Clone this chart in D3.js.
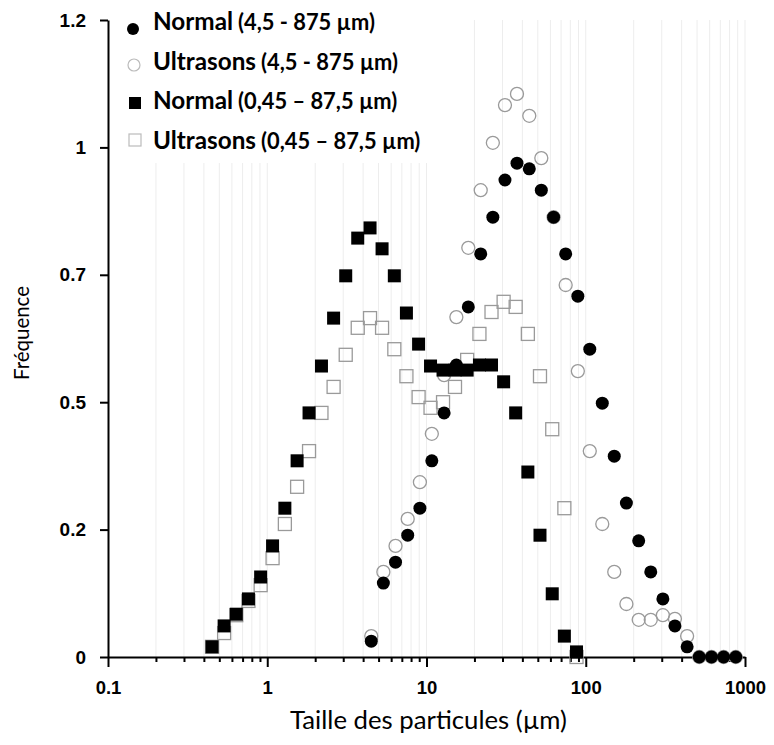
<!DOCTYPE html>
<html>
<head>
<meta charset="utf-8">
<script src="https://cdn.jsdelivr.net/npm/d3@7"></script>
<style>
  html, body { margin: 0; padding: 0; background: #fff; }
  svg { display: block; }
</style>
</head>
<body>
<svg id="chart" width="774" height="745"></svg>
<script>
// ---- data ----
const sizesBig   = [4.5, 5.36, 6.39, 7.62, 9.09, 10.8, 12.9, 15.4, 18.3, 21.9, 26.1, 31.1, 37.0, 44.2, 52.6, 62.8, 74.8, 89.2, 106, 127, 151, 180, 215, 256, 305, 363, 433, 516, 616, 734, 875];
const sizesSmall = [0.45, 0.536, 0.639, 0.762, 0.909, 1.08, 1.29, 1.54, 1.83, 2.19, 2.61, 3.11, 3.70, 4.42, 5.26, 6.28, 7.48, 8.92, 10.6, 12.7, 15.1, 18.0, 21.5, 25.6, 30.5, 36.3, 43.3, 51.6, 61.6, 73.4, 87.5];

const normalBig = [0.031, 0.145, 0.186, 0.239, 0.292, 0.385, 0.479, 0.573, 0.687, 0.791, 0.863, 0.936, 0.969, 0.958, 0.916, 0.863, 0.791, 0.708, 0.604, 0.498, 0.394, 0.302, 0.228, 0.167, 0.114, 0.061, 0.020, 0, 0, 0, 0];
const ultraBig  = [0.041, 0.167, 0.218, 0.271, 0.343, 0.438, 0.553, 0.667, 0.803, 0.916, 1.009, 1.083, 1.105, 1.062, 0.979, 0.863, 0.730, 0.561, 0.404, 0.261, 0.167, 0.104, 0.073, 0.073, 0.082, 0.075, 0.041, 0, 0, 0, 0];
const normalSmall = [0.020, 0.061, 0.084, 0.114, 0.157, 0.218, 0.292, 0.385, 0.479, 0.571, 0.665, 0.748, 0.822, 0.842, 0.801, 0.748, 0.675, 0.614, 0.571, 0.563, 0.563, 0.563, 0.573, 0.573, 0.540, 0.479, 0.363, 0.239, 0.124, 0.041, 0.010];
const ultraSmall  = [0.020, 0.047, 0.082, 0.110, 0.141, 0.194, 0.261, 0.334, 0.404, 0.479, 0.530, 0.593, 0.646, 0.665, 0.646, 0.604, 0.551, 0.510, 0.489, 0.500, 0.530, 0.583, 0.634, 0.677, 0.697, 0.687, 0.634, 0.551, 0.447, 0.292, 0];

const yTickValues = [0, 0.25, 0.5, 0.75, 1, 1.25];
const yTickLabels = ["0", "0.2", "0.5", "0.7", "1", "1.2"];
const xMajorTicks = [0.1, 1, 10, 100, 1000];
const xMajorLabels = ["0.1", "1", "10", "100", "1000"];

const legendNames  = ["Normal", "Ultrasons", "Normal", "Ultrasons"];
const legendRanges = ["(4,5 - 875 µm)", "(4,5 - 875 µm)", "(0,45 – 87,5 µm)", "(0,45 – 87,5 µm)"];

const xTitle = "Taille des particules (µm)";
const yTitle = "Fréquence";

// ---- chart ----
(function () {
const svg = d3.select("#chart");
const pLeft = 108, pRight = 745, pTop = 20, pBottom = 657;
const x = d3.scaleLog().domain([0.1, 1000]).range([pLeft, pRight]);
const y = d3.scaleLinear().domain([0, 1.25]).range([pBottom, pTop]);
const TITLE_FONT = "Lato, 'Open Sans', sans-serif";
const TICK_FONT = "'Liberation Sans', Arial, sans-serif";

// fit a text element's font size so its width matches a target width
function fitWidth(sel, baseSize, target) {
  sel.attr("font-size", baseSize);
  const w = sel.node().getComputedTextLength();
  const fs = baseSize * target / w;
  sel.attr("font-size", fs);
  return fs;
}

const allTicks = x.ticks();
const gridVals = allTicks.filter(v => v > 0.1 + 1e-9);
const minorTicks = allTicks.filter(v => !xMajorTicks.some(m => Math.abs(m - v) / m < 1e-6));

// gridlines
svg.append("g").selectAll("line").data(gridVals).join("line")
  .attr("x1", d => x(d)).attr("x2", d => x(d))
  .attr("y1", pTop).attr("y2", pBottom)
  .attr("stroke", "#ededed").attr("stroke-width", 1);

// legend background (covers gridlines)
svg.append("rect").attr("x", 111).attr("y", 0).attr("width", 332).attr("height", 163).attr("fill", "#fff");

// x axis minor ticks
const gMinor = svg.append("g").attr("transform", `translate(0,${pBottom})`)
  .call(d3.axisBottom(x).tickValues(minorTicks).tickSize(5).tickSizeOuter(0).tickFormat(""));
gMinor.select(".domain").remove();
gMinor.selectAll("line").attr("stroke", "#000").attr("stroke-width", 2);

// x axis major
const gX = svg.append("g").attr("transform", `translate(0,${pBottom})`)
  .call(d3.axisBottom(x).tickValues(xMajorTicks).tickSize(10).tickSizeOuter(0)
    .tickFormat((d, i) => xMajorLabels[i]).tickPadding(14));
gX.select(".domain").attr("stroke", "#000").attr("stroke-width", 2);
gX.selectAll("line").attr("stroke", "#000").attr("stroke-width", 2);
gX.selectAll("text").attr("font-family", TICK_FONT)
  .attr("font-weight", "bold").attr("font-size", 18.5).attr("fill", "#000");

// y axis
const gY = svg.append("g").attr("transform", `translate(${pLeft},0)`)
  .call(d3.axisLeft(y).tickValues(yTickValues).tickSize(8).tickSizeOuter(0)
    .tickFormat((d, i) => yTickLabels[i]).tickPadding(14));
gY.select(".domain").attr("stroke", "#000").attr("stroke-width", 2);
gY.selectAll("line").attr("stroke", "#000").attr("stroke-width", 2);
gY.selectAll("text").attr("font-family", TICK_FONT)
  .attr("font-weight", "bold").attr("font-size", 19).attr("fill", "#000");

// axis titles
const xt = svg.append("text").attr("x", 428.5).attr("y", 729)
  .attr("text-anchor", "middle").attr("font-family", TITLE_FONT)
  .attr("fill", "#000").text(xTitle);
fitWidth(xt, 20, 277);
const yt = svg.append("text").attr("transform", "translate(29,333) rotate(-90)")
  .attr("text-anchor", "middle").attr("font-family", TITLE_FONT)
  .attr("fill", "#000").text(yTitle);
fitWidth(yt, 20, 94);

// series
const R = 6.5, S = 13;
const pairs = (xs, ys) => xs.map((v, i) => [v, ys[i]]);

svg.append("g").selectAll("rect").data(pairs(sizesSmall, ultraSmall)).join("rect")
  .attr("x", d => x(d[0]) - S / 2).attr("y", d => y(d[1]) - S / 2)
  .attr("width", S).attr("height", S)
  .attr("fill", "none").attr("stroke", "#9a9a9a").attr("stroke-width", 1.3);

svg.append("g").selectAll("circle").data(pairs(sizesBig, ultraBig)).join("circle")
  .attr("cx", d => x(d[0])).attr("cy", d => y(d[1])).attr("r", R)
  .attr("fill", "none").attr("stroke", "#9a9a9a").attr("stroke-width", 1.3);

svg.append("g").selectAll("rect").data(pairs(sizesSmall, normalSmall)).join("rect")
  .attr("x", d => x(d[0]) - S / 2).attr("y", d => y(d[1]) - S / 2)
  .attr("width", S).attr("height", S).attr("fill", "#000");

svg.append("g").selectAll("circle").data(pairs(sizesBig, normalBig)).join("circle")
  .attr("cx", d => x(d[0])).attr("cy", d => y(d[1])).attr("r", R).attr("fill", "#000");

// legend
const lg = svg.append("g");
const markerY = [29, 65, 103, 140];
const probeN = lg.append("text").attr("font-family", TITLE_FONT).attr("font-weight", "bold").text("Normal");
const nameFs = fitWidth(probeN, 20, 80);
probeN.remove();
const probeR = lg.append("text").attr("font-family", TITLE_FONT).attr("font-weight", "bold").text(legendRanges[0]);
const rangeFs = fitWidth(probeR, 17, 137);
probeR.remove();

legendNames.forEach((name, i) => {
  const base = 30 + i * 39.7;
  const my = markerY[i];
  if (i === 0) lg.append("circle").attr("cx", 133).attr("cy", my).attr("r", 6).attr("fill", "#000");
  if (i === 1) lg.append("circle").attr("cx", 134).attr("cy", my).attr("r", 6).attr("fill", "none").attr("stroke", "#bbb").attr("stroke-width", 1.2);
  if (i === 2) lg.append("rect").attr("x", 129).attr("y", my - 6).attr("width", 12).attr("height", 12).attr("fill", "#000");
  if (i === 3) lg.append("rect").attr("x", 129).attr("y", my - 6).attr("width", 12).attr("height", 12).attr("fill", "none").attr("stroke", "#bbb").attr("stroke-width", 1.2);
  const t = lg.append("text").attr("x", 153).attr("y", base)
    .attr("font-family", TITLE_FONT).attr("font-weight", "bold").attr("fill", "#000");
  const n = t.append("tspan").attr("font-size", nameFs).text(name);
  const nw = n.node().getComputedTextLength();
  t.append("tspan").attr("x", 153 + nw + 5).attr("font-size", rangeFs).text(legendRanges[i]);
});
})();
</script>
</body>
</html>
